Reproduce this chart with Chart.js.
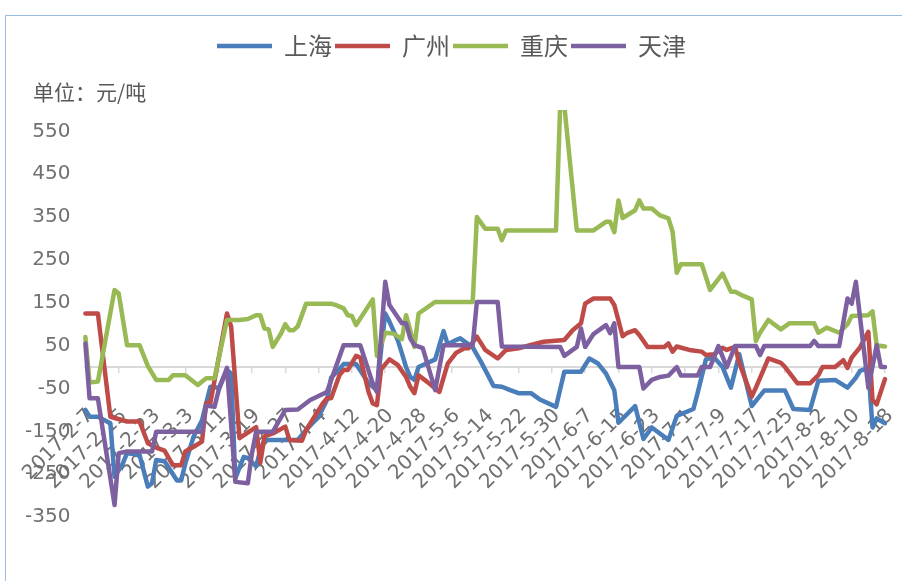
<!DOCTYPE html>
<html><head><meta charset="utf-8">
<script src="https://cdn.jsdelivr.net/npm/chart.js"></script>
<style>
html,body{margin:0;padding:0;background:#fff;}
#wrap{position:relative;width:902px;height:581px;overflow:hidden;background:#fff;}
#frame{position:absolute;left:5px;top:15px;width:920px;height:600px;border-left:1.5px solid #9dbbe1;border-top:1.5px solid #9dbbe1;box-sizing:border-box;}
#unit{position:absolute;left:33px;top:79px;font:21px "Noto Sans CJK SC",sans-serif;color:#595959;line-height:24px;white-space:nowrap;}
canvas{position:absolute;left:0;top:0;}
</style></head><body>
<div id="wrap"><div id="frame"></div><canvas id="c" width="902" height="581"></canvas><div id="unit">单位：元/吨</div></div>
<script>
// ---- data ----
const seriesNames = ['上海', '广州', '重庆', '天津'];
const xTickLabels = ['2017-2-7','2017-2-15','2017-2-23','2017-3-3','2017-3-11','2017-3-19','2017-3-27','2017-4-4','2017-4-12','2017-4-20','2017-4-28','2017-5-6','2017-5-14','2017-5-22','2017-5-30','2017-6-7','2017-6-15','2017-6-23','2017-7-1','2017-7-9','2017-7-17','2017-7-25','2017-8-2','2017-8-10','2017-8-18'];
const yTickValues = [-350, -250, -150, -50, 50, 150, 250, 350, 450, 550];

const shanghai = [['2-7',-100],['2-8',-116],['2-10',-116],['2-13',-131],['2-14',-256],['2-16',-225],['2-17',-201],['2-20',-205],['2-22',-279],['2-23',-271],['2-24',-217],['2-26',-220],['3-1',-265],['3-2',-265],['3-3',-225],['3-5',-162],['3-7',-124],['3-9',-46],['3-10',-46],['3-11',-50],['3-13',-7],['3-14',-15],['3-15',-260],['3-17',-210],['3-18',-212],['3-20',-232],['3-21',-194],['3-22',-170],['3-30',-170],['4-1',-147],['4-4',-116],['4-6',-77],['4-7',-25],['4-9',-5],['4-10',7],['4-13',7],['4-16',-38],['4-18',-54],['4-19',40],['4-20',125],['4-21',106],['4-23',63],['4-24',32],['4-25',0],['4-26',-23],['4-27',-30],['4-28',0],['4-30',9],['5-2',18],['5-4',84],['5-5',53],['5-7',63],['5-8',67],['5-11',46],['5-13',12],['5-16',-44],['5-18',-46],['5-20',-54],['5-22',-61],['5-25',-61],['5-27',-75],['5-31',-93],['6-2',-11],['6-6',-11],['6-8',20],['6-10',9],['6-12',-15],['6-14',-54],['6-15',-130],['6-19',-91],['6-21',-168],['6-23',-141],['6-27',-170],['6-29',-114],['7-3',-98],['7-4',-61],['7-6',18],['7-8',22],['7-10',0],['7-12',-48],['7-14',30],['7-17',-91],['7-20',-55],['7-25',-55],['7-27',-98],['7-31',-100],['8-2',-32],['8-6',-30],['8-9',-48],['8-11',-25],['8-12',-9],['8-14',-2],['8-15',-141],['8-16',-120],['8-18',-131]];

const guangzhou = [['2-7',125],['2-10',125],['2-13',-116],['2-17',-127],['2-20',-127],['2-22',-178],['2-24',-188],['2-26',-195],['2-28',-229],['3-2',-229],['3-3',-197],['3-5',-186],['3-7',-174],['3-8',-84],['3-9',-84],['3-13',125],['3-14',94],['3-16',-166],['3-20',-140],['3-21',-224],['3-22',-162],['3-24',-155],['3-27',-139],['3-28',-170],['3-31',-172],['4-1',-147],['4-5',-85],['4-6',-73],['4-7',-73],['4-9',-19],['4-10',-7],['4-11',-7],['4-13',26],['4-14',22],['4-16',-58],['4-17',-85],['4-18',-89],['4-19',-5],['4-21',18],['4-23',5],['4-25',-23],['4-26',-46],['4-27',-61],['4-28',-19],['4-30',-34],['5-3',-58],['5-5',8],['5-7',33],['5-9',44],['5-10',44],['5-12',71],['5-14',40],['5-17',20],['5-19',40],['5-22',44],['5-28',59],['6-2',63],['6-4',86],['6-6',102],['6-7',148],['6-9',160],['6-13',160],['6-14',145],['6-16',72],['6-17',79],['6-19',86],['6-20',75],['6-22',47],['6-26',47],['6-27',55],['6-28',36],['6-29',48],['7-2',40],['7-5',36],['7-6',28],['7-8',30],['7-10',45],['7-11',40],['7-13',47],['7-14',10],['7-17',-69],['7-18',-48],['7-21',20],['7-24',10],['7-25',0],['7-28',-38],['7-31',-38],['8-2',-19],['8-3',0],['8-6',0],['8-8',16],['8-9',-2],['8-10',22],['8-12',46],['8-14',82],['8-15',-77],['8-16',-87],['8-18',-28]];

const chongqing = [['2-7',70],['2-8',-36],['2-10',-34],['2-14',180],['2-15',172],['2-17',51],['2-20',51],['2-22',2],['2-24',-30],['2-27',-30],['2-28',-19],['3-3',-19],['3-6',-42],['3-8',-26],['3-10',-26],['3-13',110],['3-16',110],['3-18',112],['3-20',121],['3-21',121],['3-22',90],['3-23',88],['3-24',47],['3-26',79],['3-27',100],['3-28',86],['3-29',86],['3-30',95],['4-1',148],['4-7',148],['4-8',145],['4-10',137],['4-11',121],['4-12',119],['4-13',98],['4-17',158],['4-18',26],['4-20',80],['4-22',78],['4-24',65],['4-25',121],['4-26',86],['4-27',47],['4-28',125],['5-2',152],['5-11',152],['5-12',350],['5-14',323],['5-17',323],['5-18',296],['5-19',319],['5-31',319],['6-1',610],['6-2',610],['6-5',319],['6-9',319],['6-12',339],['6-13',339],['6-14',315],['6-15',389],['6-16',348],['6-19',366],['6-20',389],['6-21',370],['6-23',370],['6-25',354],['6-27',347],['6-28',316],['6-29',220],['6-30',240],['7-5',240],['7-7',180],['7-10',218],['7-12',176],['7-13',176],['7-15',166],['7-17',158],['7-18',61],['7-19',80],['7-21',110],['7-24',88],['7-26',102],['8-1',102],['8-2',80],['8-4',92],['8-7',80],['8-9',100],['8-10',119],['8-14',121],['8-15',130],['8-16',51],['8-18',48]];

const tianjin = [['2-7',55],['2-8',-73],['2-10',-73],['2-14',-322],['2-15',-201],['2-17',-197],['2-23',-197],['2-24',-151],['3-7',-151],['3-8',-90],['3-10',-93],['3-11',-54],['3-13',-2],['3-15',-268],['3-18',-271],['3-19',-201],['3-20',-151],['3-24',-151],['3-27',-100],['3-30',-99],['4-2',-77],['4-6',-58],['4-10',51],['4-14',51],['4-17',-38],['4-18',-58],['4-20',199],['4-21',145],['4-24',102],['4-25',102],['4-26',67],['4-27',51],['4-29',44],['5-2',-54],['5-4',51],['5-11',51],['5-12',152],['5-17',152],['5-18',48],['6-1',47],['6-2',26],['6-4',40],['6-5',47],['6-6',90],['6-7',47],['6-9',77],['6-12',98],['6-13',79],['6-14',102],['6-15',0],['6-20',0],['6-21',-50],['6-23',-30],['6-25',-23],['6-27',-20],['6-29',0],['6-30',-20],['7-4',-20],['7-5',0],['7-7',0],['7-9',49],['7-11',0],['7-13',49],['7-18',49],['7-19',28],['7-20',49],['7-31',49],['8-1',61],['8-2',49],['8-7',49],['8-9',160],['8-10',148],['8-11',199],['8-14',-48],['8-16',51],['8-17',0],['8-18',0]];

const seriesColors = ['#4a7ebb', '#be4b48', '#98b954', '#7d60a0'];

// daily categories over the covered date range
const categories = [];
for (let t = Date.UTC(2017, 1, 7); t <= Date.UTC(2017, 7, 18); t += 86400000) {
  const d = new Date(t);
  categories.push(d.getUTCFullYear() + '-' + (d.getUTCMonth() + 1) + '-' + d.getUTCDate());
}
const toPoints = arr => arr.map(([d, v]) => ({ x: '2017-' + d, y: v }));
const allSeries = [shanghai, guangzhou, chongqing, tianjin];

const datasets = allSeries.map((s, i) => ({
  label: seriesNames[i],
  data: toPoints(s),
  borderColor: seriesColors[i],
  backgroundColor: seriesColors[i],
  borderWidth: 4.5,
  pointRadius: 0,
  pointHoverRadius: 0,
  tension: 0,
  borderJoinStyle: 'round',
  borderCapStyle: 'round',
  order: 3 - i,
  clip: { left: 4, right: 4, top: 0, bottom: 4 }
}));

const legendSpacer = {
  id: 'legendSpacer',
  beforeInit(chart) {
    const fit = chart.legend.fit;
    chart.legend.fit = function () { fit.call(this); this.height += 42; };
  }
};

const tickFont = { family: '"DejaVu Sans", sans-serif', size: 20 };
const tickColor = '#707070';

new Chart(document.getElementById('c'), {
  type: 'line',
  data: { labels: categories, datasets },
  plugins: [legendSpacer],
  options: {
    responsive: false,
    animation: false,
    devicePixelRatio: 1,
    layout: { padding: { left: 18, right: 17, top: 31, bottom: 64 } },
    plugins: {
      tooltip: { enabled: false },
      legend: {
        position: 'top',
        align: 'center',
        labels: {
          usePointStyle: true,
          pointStyle: 'line',
          pointStyleWidth: 55,
          padding: 3,
          color: '#595959',
          font: { family: '"Noto Sans CJK SC", sans-serif', size: 24 },
          sort: (a, b) => a.datasetIndex - b.datasetIndex
        }
      }
    },
    scales: {
      x: {
        type: 'category',
        position: { y: 0 },
        offset: false,
        afterFit: scale => { scale.paddingLeft = 0; scale.paddingRight = 0; },
        grid: { display: true, drawOnChartArea: false, drawTicks: true, tickLength: 5, color: '#d9d9d9', lineWidth: 1.5 },
        border: { display: true, color: '#d9d9d9', width: 2 },
        ticks: {
          autoSkip: false,
          minRotation: 45,
          maxRotation: 45,
          padding: 32,
          labelOffset: 5,
          font: tickFont,
          color: tickColor,
          callback: function (value) {
            const lab = this.getLabelForValue(value);
            return xTickLabels.includes(lab) ? lab : null;
          }
        }
      },
      y: {
        min: -350,
        max: 600,
        grid: { display: false },
        border: { display: false },
        afterBuildTicks: scale => { scale.ticks = yTickValues.map(v => ({ value: v })); },
        ticks: { padding: 7, font: tickFont, color: tickColor }
      }
    }
  }
});
</script>
</body></html>
